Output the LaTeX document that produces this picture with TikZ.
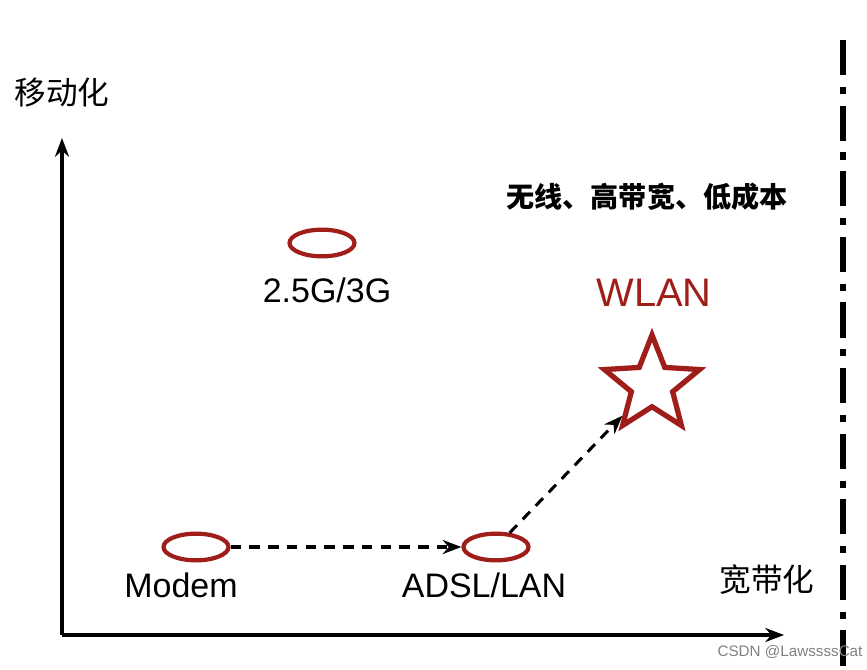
\documentclass[tikz,border=0pt]{standalone}
\usepackage{fontspec}
\setmainfont{Liberation Sans}
\newfontfamily\cjk{Noto Sans CJK SC}
\usetikzlibrary{shapes.geometric,arrows.meta,positioning}
\definecolor{darkred}{RGB}{160,30,25}

\begin{document}
\begin{tikzpicture}[
    x=0.03cm, y=-0.03cm,
    tech/.style={ellipse, draw=darkred, line width=3.6pt, minimum width=1.95cm, minimum height=0.8cm},
    lbl/.style={font=\fontsize{29}{34}\selectfont},
    cn/.style={font=\cjk\fontsize{27}{32}\selectfont},
    flow/.style={-{Stealth[length=16pt,width=12pt]}, line width=2.6pt, dash pattern=on 9pt off 7pt}
]
    \useasboundingbox (0,0) rectangle (867,669);

    % axes
    \coordinate (origin) at (62,635);
    \coordinate (ytop) at (62,138);
    \coordinate (xend) at (784,635);
    \draw [-{Stealth[length=16pt,width=12pt]}, line width=3pt] (origin) -- (ytop);
    \draw [-{Stealth[length=16pt,width=12pt]}, line width=3pt] (origin) -- (xend);
    \node [cn] (mobile) at (62,93) {移动化};
    \node [cn] (broad) at (767,580) {宽带化};

    % boundary
    \coordinate (btop) at (843,40);
    \coordinate (bbot) at (843,669);
    \draw [line width=5pt, dash pattern=on 30pt off 10pt on 6pt off 10pt] (btop) -- (bbot);

    \node [cn, font=\cjk\bfseries\fontsize{24}{28}\selectfont] (goal) at (647,197) {无线、高带宽、低成本};

    % technologies
    \node [tech] (g3) at (322,243) {};
    \node [lbl] (g3l) at (327,290) {2.5G/3G};
    \node [tech] (modem) at (196,547) {};
    \node [lbl] (modeml) at (181,585) {Modem};
    \node [tech] (adsl) at (496,547) {};
    \node [lbl] (adsll) at (484,585) {ADSL/LAN};
    \node [star, star points=5, star point ratio=2.3, draw=darkred, line width=4.5pt, minimum size=3cm] (wlan) at (652,385) {};
    \node [lbl, text=darkred, font=\fontsize{34}{40}\selectfont] (wlanl) at (654,293) {WLAN};

    % evolution
    \draw [flow] (modem) -- (adsl);
    \draw [flow] (adsl) -- (wlan);

    \node [text=gray, font=\fontsize{13}{15}\selectfont] (mark) at (790,652) {CSDN @LawssssCat};
\end{tikzpicture}
\end{document}
